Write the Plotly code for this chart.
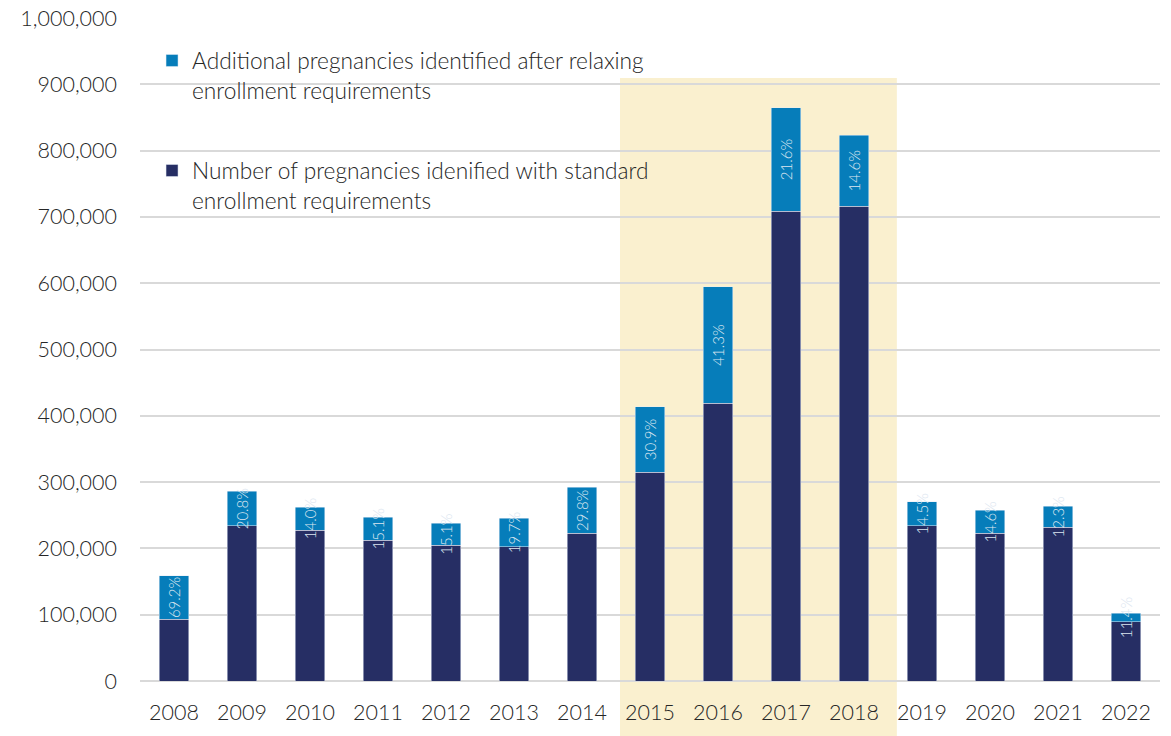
import plotly.graph_objects as go

years = ["2008", "2009", "2010", "2011", "2012", "2013", "2014", "2015",
         "2016", "2017", "2018", "2019", "2020", "2021", "2022"]
standard = [93500, 233800, 227700, 212200, 204600, 202600, 222700, 315200,
            419300, 708900, 716000, 233800, 222700, 231800, 89500]
additional = [65000, 52300, 34700, 34700, 33700, 42800, 69400, 98100,
              175000, 155400, 107000, 36700, 34700, 31600, 12600]
pct_labels = ["69.2%", "20.8%", "14.0%", "15.1%", "15.1%", "19.7%", "29.8%", "30.9%",
              "41.3%", "21.6%", "14.6%", "14.5%", "14.6%", "12.3%", "11.4%"]

name_std = "Number of pregnancies idenified with standard<br>enrollment requirements"
name_add = "Additional pregnancies identified after relaxing<br>enrollment requirements"

FONT = "Lato"
DARK = "#262E64"
BLUE = "#067DBA"
TXT = "#262626"

fig = go.Figure()
fig.add_trace(go.Bar(
    x=years, y=standard, name=name_std, marker_color=DARK,
    legendgroup="std", legendrank=2, hoverinfo="skip",
))
fig.add_trace(go.Bar(
    x=years, y=additional, name=name_add, marker_color=BLUE,
    text=pct_labels, textposition="inside", textangle=-90,
    insidetextanchor="middle",
    textfont=dict(family=FONT, size=15, color="#DCE6F0", weight=300),
    legendgroup="add", legendrank=1, hoverinfo="skip",
))

fig.add_shape(type="rect", xref="paper", yref="paper",
              x0=0.4706, x1=0.742, y0=-0.083, y1=0.9095,
              fillcolor="#FAF0CF", line_width=0, layer="below")

fig.update_layout(
    width=1171, height=736,
    barmode="stack", bargap=0.57,
    margin=dict(l=140, r=11, t=18, b=55, autoexpand=False),
    paper_bgcolor="white", plot_bgcolor="rgba(0,0,0,0)",
    font=dict(family=FONT, size=21.5, color=TXT, weight=300),
    uniformtext=dict(minsize=15, mode="show"),
    legend=dict(
        x=0.0118, y=0.968, xanchor="left", yanchor="top",
        traceorder="grouped", valign="top",
        tracegroupgap=48, bgcolor="rgba(0,0,0,0)",
        font=dict(family=FONT, size=22.7, color=TXT, weight=300),
    ),
    xaxis=dict(
        type="category", range=[-0.5, 14.5], automargin=False,
        showgrid=False, showline=False, ticks="",
        ticklabelstandoff=16,
        tickfont=dict(family=FONT, size=21.5, color=TXT, weight=300),
    ),
    yaxis=dict(
        range=[0, 1000000], dtick=100000, tickformat=",d", automargin=False,
        showgrid=True, gridcolor="#D9D9D9", gridwidth=2,
        zeroline=True, zerolinecolor="#D9D9D9", zerolinewidth=2,
        showline=False, ticks="", ticklabelstandoff=22,
        ticklabeloverflow="allow",
        tickfont=dict(family=FONT, size=21.5, color=TXT, weight=300),
    ),
)

fig.write_html("out.html", config={"displayModeBar": False},
               post_script="document.body.style.margin='0px';")
